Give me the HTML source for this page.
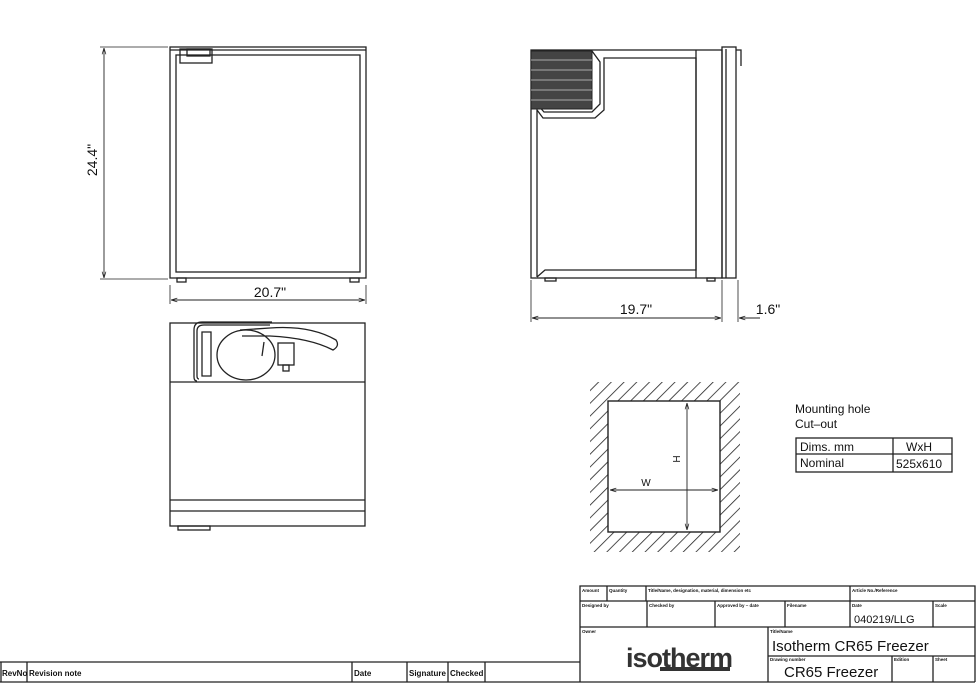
<!DOCTYPE html>
<html><head><meta charset="utf-8"><style>
html,body{margin:0;padding:0;background:#fff;}
svg{display:block;}
text{font-family:"Liberation Sans",sans-serif;fill:#111;}
</style></head><body>
<svg width="979" height="685" viewBox="0 0 979 685" xmlns="http://www.w3.org/2000/svg">
<defs>
<pattern id="h" width="9" height="9" patternUnits="userSpaceOnUse" patternTransform="rotate(45)">
<line x1="0" y1="0" x2="0" y2="9" stroke="#222" stroke-width="1.6"/>
</pattern>
<marker id="a" viewBox="0 0 10 10" refX="10" refY="5" markerWidth="7" markerHeight="7" orient="auto-start-reverse"><path d="M0,2 L10,5 L0,8" fill="none" stroke="#222" stroke-width="1.2"/></marker>
</defs>
<g fill="none" stroke="#222" stroke-width="1.3">
<!-- Front view -->
<rect x="170" y="47" width="196" height="231"/>
<rect x="176" y="55" width="184" height="217"/>
<line x1="170" y1="50" x2="366" y2="50"/>
<rect x="180" y="49" width="32" height="14"/>
<rect x="187" y="49" width="23" height="7"/>
<rect x="177" y="278" width="9" height="4"/>
<rect x="350" y="278" width="9" height="4"/>
<!-- front dims -->
<line x1="100" y1="47" x2="168" y2="47" stroke-width="0.8"/>
<line x1="100" y1="279" x2="168" y2="279" stroke-width="0.8"/>
<line x1="104" y1="48" x2="104" y2="278" stroke-width="0.9" marker-start="url(#a)" marker-end="url(#a)"/>
<line x1="170" y1="285" x2="170" y2="304" stroke-width="0.8"/>
<line x1="366" y1="285" x2="366" y2="304" stroke-width="0.8"/>
<line x1="171" y1="300" x2="365" y2="300" stroke-width="0.9" marker-start="url(#a)" marker-end="url(#a)"/>
<!-- Side view -->
<rect x="531" y="50" width="191" height="228"/>
<path d="M592 51 L600 62 L600 104 L592 112 L544 112 L537 104"/>
<path d="M537 277 L537 110 L543 118 L595 118 L604 110 L604 58 L696 58 L696 270 L545 270 L537 277"/>
<line x1="696" y1="50" x2="696" y2="278"/>
<rect x="722" y="47" width="14" height="231"/>
<line x1="726" y1="49" x2="726" y2="278"/>
<path d="M736 50 L741 50 L741 66"/>
<rect x="545" y="278" width="11" height="3"/>
<rect x="707" y="278" width="8" height="3"/>
<line x1="531" y1="280" x2="531" y2="322" stroke-width="0.8"/>
<line x1="722" y1="280" x2="722" y2="322" stroke-width="0.8"/>
<line x1="738" y1="280" x2="738" y2="322" stroke-width="0.8"/>
<line x1="532" y1="318" x2="721" y2="318" stroke-width="0.9" marker-start="url(#a)" marker-end="url(#a)"/>
<line x1="760" y1="318" x2="739" y2="318" stroke-width="0.9" marker-end="url(#a)"/>
<!-- Top view -->
<rect x="170" y="323" width="195" height="203"/>
<line x1="170" y1="382" x2="365" y2="382"/>
<line x1="170" y1="500" x2="365" y2="500"/>
<line x1="170" y1="511" x2="365" y2="511"/>
<rect x="178" y="526" width="32" height="4"/>
<path d="M197 381 Q194 381 194 377 L194 330 Q194 322 202 322 L272 322"/>
<path d="M202 376 L202 332 L211 332 L211 376 Z"/>
<path d="M199 379 Q197 379 197 376 L197 331 Q197 325 204 325 L270 325"/>
<ellipse cx="246" cy="355" rx="29" ry="25" fill="#fff"/>
<path d="M240 330 L270 328 Q310 325 336 340 Q340 346 333 350 Q310 338 270 336 L242 336"/>
<rect x="278" y="343" width="16" height="22" fill="#fff"/>
<rect x="283" y="365" width="6" height="6"/>
<path d="M264 342 L262 356"/>
<!-- Cutout -->
<path d="M590 382 H740 V552 H590 Z M608 401 V532 H720 V401 Z" fill="url(#h)" stroke="none" fill-rule="evenodd"/>
<rect x="608" y="401" width="112" height="131" fill="#fff" stroke-width="1.4"/>
<line x1="687" y1="403" x2="687" y2="530" stroke-width="0.9" marker-start="url(#a)" marker-end="url(#a)"/>
<line x1="610" y1="490" x2="718" y2="490" stroke-width="0.9" marker-start="url(#a)" marker-end="url(#a)"/>
<!-- table -->
<rect x="796" y="438" width="156" height="34"/>
<line x1="796" y1="454" x2="952" y2="454"/>
<line x1="893" y1="438" x2="893" y2="472"/>
<!-- title block -->
<path d="M580 682 V586 H975 V682"/>
<line x1="580" y1="601" x2="975" y2="601"/>
<line x1="580" y1="627" x2="975" y2="627"/>
<line x1="768" y1="656" x2="975" y2="656"/>
<line x1="0" y1="682" x2="975" y2="682"/>
<line x1="607" y1="586" x2="607" y2="601"/>
<line x1="646" y1="586" x2="646" y2="601"/>
<line x1="850" y1="586" x2="850" y2="627"/>
<line x1="647" y1="601" x2="647" y2="627"/>
<line x1="715" y1="601" x2="715" y2="627"/>
<line x1="785" y1="601" x2="785" y2="627"/>
<line x1="933" y1="601" x2="933" y2="627"/>
<line x1="768" y1="627" x2="768" y2="682"/>
<line x1="892" y1="656" x2="892" y2="682"/>
<line x1="933" y1="656" x2="933" y2="682"/>
<line x1="0" y1="662" x2="580" y2="662"/>
<line x1="1" y1="662" x2="1" y2="682"/>
<line x1="27" y1="662" x2="27" y2="682"/>
<line x1="352" y1="662" x2="352" y2="682"/>
<line x1="407" y1="662" x2="407" y2="682"/>
<line x1="448" y1="662" x2="448" y2="682"/>
<line x1="485" y1="662" x2="485" y2="682"/>
</g>
<!-- grill -->
<g stroke="#222" stroke-width="1">
<rect x="531" y="51" width="61" height="58" fill="#444"/>
</g>
<g stroke="#ccc" stroke-width="0.7">
<line x1="531" y1="60" x2="592" y2="60"/><line x1="531" y1="70" x2="592" y2="70"/><line x1="531" y1="80" x2="592" y2="80"/><line x1="531" y1="90" x2="592" y2="90"/><line x1="531" y1="100" x2="592" y2="100"/>
</g>
<!-- texts -->
<text x="0" y="0" font-size="14" transform="translate(97,160) rotate(-90)" text-anchor="middle">24.4"</text>
<text x="270" y="297" font-size="14" text-anchor="middle">20.7"</text>
<text x="636" y="314" font-size="14" text-anchor="middle">19.7"</text>
<text x="768" y="314" font-size="14" text-anchor="middle">1.6"</text>
<text x="0" y="0" font-size="10" transform="translate(680,459) rotate(-90)" text-anchor="middle">H</text>
<text x="646" y="486" font-size="10" text-anchor="middle">W</text>
<text x="795" y="413" font-size="12">Mounting  hole</text>
<text x="795" y="428" font-size="12">Cut–out</text>
<text x="800" y="451" font-size="12">Dims.  mm</text>
<text x="906" y="451" font-size="12">WxH</text>
<text x="800" y="467" font-size="12">Nominal</text>
<text x="896" y="468" font-size="12">525x610</text>
<g font-size="4.5" font-weight="bold">
<text x="582" y="592">Amount</text><text x="609" y="592">Quantity</text><text x="648" y="592">Title/Name, designation, material, dimension etc</text><text x="852" y="592">Article No./Reference</text>
<text x="582" y="607">Designed by</text><text x="649" y="607">Checked by</text><text x="717" y="607">Approved by – date</text><text x="787" y="607">Filename</text><text x="852" y="607">Date</text><text x="935" y="607">Scale</text>
<text x="582" y="633">Owner</text><text x="770" y="633">Title/Name</text><text x="770" y="661">Drawing number</text><text x="894" y="661">Edition</text><text x="935" y="661">Sheet</text>
</g>
<text x="854" y="623" font-size="11">040219/LLG</text>
<text x="772" y="651" font-size="15">Isotherm  CR65  Freezer</text>
<text x="784" y="677" font-size="15">CR65 Freezer</text>
<text x="626" y="667" font-size="27" font-weight="bold" letter-spacing="-1" style="fill:#333">isotherm</text>
<rect x="660" y="667" width="70" height="4" fill="#333"/>
<g font-size="8" font-weight="bold">
<text x="2" y="676">RevNo</text><text x="29" y="676">Revision note</text><text x="354" y="676">Date</text><text x="409" y="676">Signature</text><text x="450" y="676">Checked</text>
</g>
</svg>
</body></html>
